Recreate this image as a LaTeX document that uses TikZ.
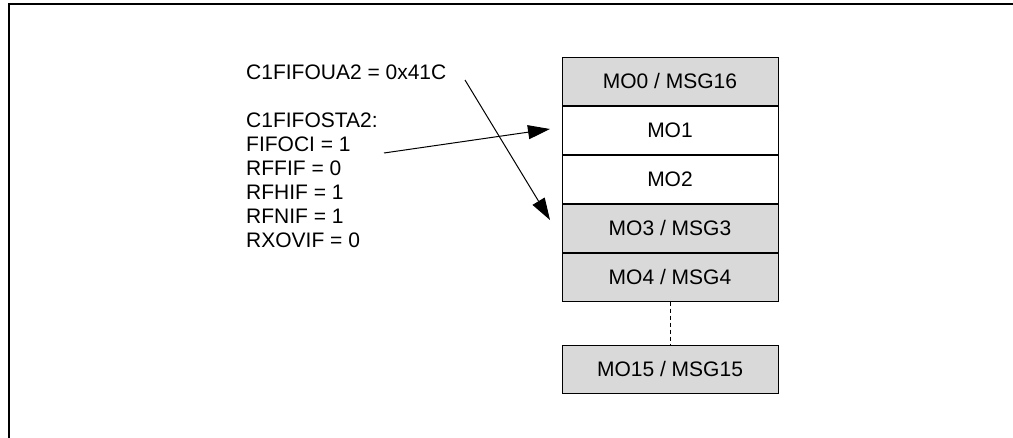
\documentclass[tikz,border=0pt]{standalone}
\usepackage{fontspec}
\setmainfont{Liberation Sans}
\usetikzlibrary{arrows.meta}
\definecolor{boxgray}{RGB}{217,217,217}
\begin{document}
\begin{tikzpicture}[x=1pt,y=-1pt,
  mobox/.style={draw=black, line width=0.9pt, minimum width=216pt, minimum height=48pt,
    inner sep=0pt, font=\fontsize{21}{24}\selectfont, anchor=north},
  shaded/.style={fill=boxgray},
  blank/.style={fill=white},
  lbl/.style={font=\fontsize{21}{24}\selectfont, inner sep=0pt, align=left, anchor=north west},
  arr/.style={-{Triangle[length=22pt,width=14pt]}, line width=1pt},
  frame/.style={line width=2pt}]
\useasboundingbox (0,0) rectangle (1013,437);
% outer figure frame (clipped)
\draw[frame] (9,450) -- (9,4) -- (1030,4);
% message objects
\node[mobox, shaded] (m0) at (670,57) {MO0 / MSG16};
\node[mobox, blank] (m1) at (m0.south) {MO1};
\node[mobox, blank] (m2) at (m1.south) {MO2};
\node[mobox, shaded] (m3) at (m2.south) {MO3 / MSG3};
\node[mobox, shaded] (m4) at (m3.south) {MO4 / MSG4};
\node[mobox, shaded] (m15) at (670,345) {MO15 / MSG15};
\draw[line width=0.9pt, dash pattern=on 4pt off 3pt] (m4.south) -- (m15.north);
% register text
\node[lbl] (txt) at (246,65) {C1FIFOUA2 = 0x41C\\[24pt]C1FIFOSTA2:\\FIFOCI = 1\\RFFIF = 0\\RFHIF = 1\\RFNIF = 1\\RXOVIF = 0};
% arrows
\coordinate (s1) at (465,80);
\coordinate (t1) at (550,220);
\coordinate (s2) at (384,153);
\coordinate (t2) at (550,129);
\draw[arr] (s1) -- (t1);
\draw[arr] (s2) -- (t2);
\end{tikzpicture}
\end{document}
